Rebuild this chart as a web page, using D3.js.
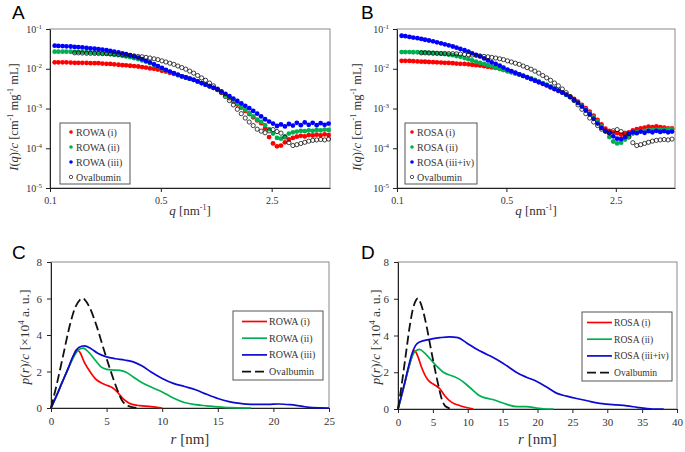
<!DOCTYPE html>
<html>
<head>
<meta charset="utf-8">
<script src="https://cdn.jsdelivr.net/npm/d3@7"></script>
<style>
  body { margin: 0; background: #fff; }
  svg text { font-family: "Liberation Serif", "Times New Roman", serif; fill: #333; }
  .letter { font-family: "Liberation Sans", Arial, sans-serif !important; fill: #000 !important; }
</style>
</head>
<body>
<svg id="fig" width="685" height="452"></svg>
<script>
// scattering vector q (nm^-1), shared by panels A and B
const qGrid = [0.107, 0.113, 0.120, 0.127, 0.135, 0.143, 0.151, 0.160, 0.170, 0.180,
  0.191, 0.202, 0.214, 0.227, 0.240, 0.254, 0.270, 0.286, 0.302, 0.320,
  0.339, 0.360, 0.381, 0.403, 0.427, 0.453, 0.479, 0.508, 0.538, 0.570,
  0.604, 0.640, 0.678, 0.718, 0.760, 0.805, 0.853, 0.904, 0.957, 1.014,
  1.074, 1.138, 1.205, 1.277, 1.353, 1.433, 1.518, 1.608, 1.703, 1.804,
  1.911, 2.025, 2.145, 2.272, 2.407, 2.549, 2.701, 2.861, 3.030, 3.210,
  3.401, 3.602, 3.816, 4.042, 4.282, 4.536, 4.805, 5.090, 5.392, 5.712]

// I(q)/c  (cm^-1 mg^-1 mL)
const rowa1 = [1.45e-2, 1.45e-2, 1.45e-2, 1.45e-2, 1.43e-2, 1.41e-2, 1.41e-2, 1.41e-2, 1.40e-2, 1.38e-2,
  1.38e-2, 1.38e-2, 1.35e-2, 1.33e-2, 1.32e-2, 1.29e-2, 1.26e-2, 1.23e-2, 1.22e-2, 1.19e-2,
  1.17e-2, 1.14e-2, 1.10e-2, 1.07e-2, 1.02e-2, 1.00e-2, 9.55e-3, 8.91e-3, 8.51e-3, 7.94e-3,
  7.41e-3, 6.92e-3, 6.46e-3, 6.03e-3, 5.62e-3, 5.25e-3, 4.79e-3, 4.37e-3, 3.98e-3, 3.63e-3,
  3.31e-3, 2.95e-3, 2.51e-3, 2.14e-3, 1.82e-3, 1.51e-3, 1.26e-3, 1.05e-3, 8.71e-4, 7.24e-4,
  6.03e-4, 5.01e-4, 4.27e-4, 3.16e-4, 1.91e-4, 1.32e-4, 1.12e-4, 1.17e-4, 1.41e-4, 1.66e-4,
  1.82e-4, 1.95e-4, 2.05e-4, 1.98e-4, 2.14e-4, 2.09e-4, 2.19e-4, 2.12e-4, 2.24e-4, 2.14e-4]
const rowa2 = [2.69e-2, 2.69e-2, 2.69e-2, 2.69e-2, 2.68e-2, 2.66e-2, 2.66e-2, 2.63e-2, 2.60e-2, 2.57e-2,
  2.54e-2, 2.51e-2, 2.45e-2, 2.40e-2, 2.34e-2, 2.26e-2, 2.19e-2, 2.11e-2, 2.04e-2, 1.95e-2,
  1.84e-2, 1.74e-2, 1.62e-2, 1.51e-2, 1.38e-2, 1.26e-2, 1.15e-2, 1.02e-2, 9.12e-3, 8.32e-3,
  7.59e-3, 6.92e-3, 6.46e-3, 6.03e-3, 5.62e-3, 5.25e-3, 4.79e-3, 4.37e-3, 3.98e-3, 3.63e-3,
  3.31e-3, 2.95e-3, 2.57e-3, 2.19e-3, 1.86e-3, 1.58e-3, 1.32e-3, 1.10e-3, 9.12e-4, 7.59e-4,
  6.31e-4, 5.25e-4, 4.57e-4, 3.80e-4, 3.02e-4, 2.34e-4, 1.82e-4, 1.74e-4, 2.00e-4, 2.34e-4,
  2.51e-4, 2.63e-4, 2.75e-4, 2.69e-4, 2.82e-4, 2.75e-4, 2.88e-4, 2.82e-4, 2.95e-4, 2.88e-4]
const rowa3 = [3.80e-2, 3.76e-2, 3.72e-2, 3.67e-2, 3.63e-2, 3.55e-2, 3.51e-2, 3.43e-2, 3.35e-2, 3.27e-2,
  3.20e-2, 3.13e-2, 3.02e-2, 2.92e-2, 2.82e-2, 2.69e-2, 2.57e-2, 2.45e-2, 2.32e-2, 2.19e-2,
  2.04e-2, 1.91e-2, 1.74e-2, 1.58e-2, 1.45e-2, 1.29e-2, 1.17e-2, 1.05e-2, 9.33e-3, 8.51e-3,
  7.76e-3, 7.08e-3, 6.46e-3, 6.03e-3, 5.62e-3, 5.25e-3, 4.79e-3, 4.37e-3, 3.98e-3, 3.63e-3,
  3.31e-3, 3.02e-3, 2.69e-3, 2.34e-3, 2.04e-3, 1.78e-3, 1.55e-3, 1.35e-3, 1.17e-3, 1.02e-3,
  8.71e-4, 7.41e-4, 6.31e-4, 5.37e-4, 4.68e-4, 4.17e-4, 3.63e-4, 3.98e-4, 3.55e-4, 4.07e-4,
  3.72e-4, 4.37e-4, 3.80e-4, 4.47e-4, 3.89e-4, 4.37e-4, 3.80e-4, 4.27e-4, 3.89e-4, 4.17e-4]
const rosa1 = [1.58e-2, 1.58e-2, 1.57e-2, 1.55e-2, 1.53e-2, 1.51e-2, 1.50e-2, 1.48e-2, 1.46e-2, 1.45e-2,
  1.43e-2, 1.41e-2, 1.40e-2, 1.38e-2, 1.35e-2, 1.33e-2, 1.32e-2, 1.29e-2, 1.26e-2, 1.23e-2,
  1.20e-2, 1.16e-2, 1.12e-2, 1.08e-2, 1.05e-2, 1.00e-2, 9.33e-3, 8.71e-3, 8.32e-3, 7.76e-3,
  7.24e-3, 6.61e-3, 6.17e-3, 5.62e-3, 5.13e-3, 4.68e-3, 4.27e-3, 3.89e-3, 3.39e-3, 3.09e-3,
  2.75e-3, 2.51e-3, 2.24e-3, 2.00e-3, 1.74e-3, 1.48e-3, 1.23e-3, 1.02e-3, 8.32e-4, 6.61e-4,
  5.13e-4, 3.98e-4, 3.09e-4, 2.75e-4, 2.51e-4, 2.40e-4, 2.19e-4, 2.29e-4, 2.51e-4, 2.82e-4,
  3.02e-4, 3.16e-4, 3.31e-4, 3.47e-4, 3.39e-4, 3.55e-4, 3.39e-4, 3.31e-4, 3.16e-4, 3.16e-4]
const rosa2 = [2.63e-2, 2.63e-2, 2.63e-2, 2.60e-2, 2.60e-2, 2.57e-2, 2.57e-2, 2.54e-2, 2.51e-2, 2.45e-2,
  2.40e-2, 2.34e-2, 2.26e-2, 2.19e-2, 2.09e-2, 2.00e-2, 1.86e-2, 1.74e-2, 1.62e-2, 1.51e-2,
  1.41e-2, 1.32e-2, 1.23e-2, 1.15e-2, 1.07e-2, 1.00e-2, 9.33e-3, 8.71e-3, 8.13e-3, 7.59e-3,
  7.08e-3, 6.61e-3, 6.17e-3, 5.75e-3, 5.25e-3, 4.79e-3, 4.37e-3, 3.98e-3, 3.55e-3, 3.16e-3,
  2.82e-3, 2.51e-3, 2.19e-3, 1.91e-3, 1.62e-3, 1.38e-3, 1.15e-3, 9.55e-4, 7.76e-4, 6.17e-4,
  4.79e-4, 3.55e-4, 2.63e-4, 1.91e-4, 1.48e-4, 1.32e-4, 1.38e-4, 1.66e-4, 2.00e-4, 2.34e-4,
  2.51e-4, 2.69e-4, 2.75e-4, 2.82e-4, 2.88e-4, 2.88e-4, 2.95e-4, 2.95e-4, 3.02e-4, 3.02e-4]
const rosa34 = [6.76e-2, 6.61e-2, 6.31e-2, 6.10e-2, 5.89e-2, 5.62e-2, 5.37e-2, 5.13e-2, 4.90e-2, 4.62e-2,
  4.37e-2, 4.12e-2, 3.89e-2, 3.63e-2, 3.39e-2, 3.16e-2, 2.92e-2, 2.69e-2, 2.45e-2, 2.24e-2,
  2.04e-2, 1.82e-2, 1.62e-2, 1.45e-2, 1.32e-2, 1.20e-2, 1.07e-2, 9.55e-3, 8.71e-3, 7.94e-3,
  7.24e-3, 6.61e-3, 6.03e-3, 5.50e-3, 5.01e-3, 4.57e-3, 4.17e-3, 3.80e-3, 3.47e-3, 3.09e-3,
  2.82e-3, 2.51e-3, 2.24e-3, 1.95e-3, 1.66e-3, 1.38e-3, 1.12e-3, 8.91e-4, 7.08e-4, 5.50e-4,
  4.17e-4, 3.24e-4, 2.75e-4, 2.40e-4, 2.00e-4, 1.74e-4, 1.70e-4, 1.91e-4, 2.29e-4, 2.51e-4,
  2.40e-4, 2.63e-4, 2.45e-4, 2.69e-4, 2.51e-4, 2.75e-4, 2.57e-4, 2.69e-4, 2.51e-4, 2.63e-4]
const ovalbumin = [null, null, null, null, null, 2.51e-2, 2.51e-2, 2.48e-2, 2.45e-2, 2.45e-2,
  2.43e-2, 2.43e-2, 2.40e-2, 2.40e-2, 2.37e-2, 2.34e-2, 2.29e-2, 2.26e-2, 2.21e-2, 2.16e-2,
  2.11e-2, 2.04e-2, 2.00e-2, 1.93e-2, 1.86e-2, 1.78e-2, 1.70e-2, 1.58e-2, 1.48e-2, 1.38e-2,
  1.29e-2, 1.17e-2, 1.07e-2, 9.77e-3, 8.71e-3, 7.76e-3, 6.76e-3, 5.89e-3, 5.13e-3, 4.37e-3,
  3.72e-3, 3.09e-3, 2.51e-3, 2.00e-3, 1.58e-3, 1.23e-3, 9.55e-4, 7.41e-4, 5.75e-4, 4.57e-4,
  3.72e-4, 3.02e-4, 2.69e-4, 2.45e-4, 2.75e-4, 2.95e-4, 2.63e-4, 2.40e-4, 1.91e-4, 1.38e-4,
  1.17e-4, 1.23e-4, 1.32e-4, 1.41e-4, 1.51e-4, 1.58e-4, 1.62e-4, 1.66e-4, 1.62e-4, 1.70e-4]

// p(r)/c (x10^4 a.u.) against r (nm)
const rowaP1 = [[0, 0], [0.5, 0.68], [1, 1.4], [1.5, 2.1], [2, 2.85], [2.3, 3.2], [2.6, 3.05], [3.0, 2.5], [3.5, 2.0],
  [4.0, 1.6], [4.5, 1.38], [5.0, 1.25], [5.5, 1.12], [6.0, 0.85], [6.5, 0.5], [7.0, 0.28], [7.5, 0.17], [8.0, 0.13], [9.0, 0.08], [10, 0]]
const rowaP2 = [[0, 0], [0.5, 0.68], [1, 1.4], [1.5, 2.1], [2, 2.75], [2.5, 3.2], [2.9, 3.28], [3.4, 3.05], [4.0, 2.6],
  [4.5, 2.25], [5.0, 2.12], [5.6, 2.08], [6.2, 2.06], [6.8, 1.95], [7.4, 1.7], [8.0, 1.45], [9.0, 1.15], [10.0, 0.88],
  [11.0, 0.55], [12.0, 0.3], [13.0, 0.18], [14.0, 0.12], [15.0, 0.06], [16.0, 0.02], [18.0, 0]]
const rowaP3 = [[0, 0], [0.5, 0.68], [1, 1.4], [1.5, 2.1], [2, 2.85], [2.5, 3.32], [3.0, 3.4], [3.6, 3.25], [4.2, 3.0],
  [5.0, 2.8], [5.8, 2.7], [6.6, 2.63], [7.4, 2.53], [8.2, 2.3], [9.0, 1.97], [10.0, 1.62], [11.0, 1.35], [12.0, 1.18],
  [13.0, 1.0], [14.0, 0.75], [15.0, 0.52], [16.0, 0.35], [17.0, 0.25], [18.0, 0.2], [19.5, 0.2], [20.5, 0.22],
  [21.5, 0.18], [22.5, 0.1], [23.5, 0.02], [25, 0]]
const rosaP1 = [[0, 0], [0.5, 0.7], [1, 1.45], [1.5, 2.2], [2.0, 2.85], [2.4, 3.16], [2.8, 2.9], [3.35, 2.3], [4.0, 1.75],
  [4.5, 1.5], [5.0, 1.37], [5.5, 1.25], [6.0, 1.1], [6.7, 0.72], [7.7, 0.36], [8.9, 0.18], [10.3, 0.04], [10.8, 0]]
const rosaP2 = [[0, 0], [0.5, 0.7], [1, 1.45], [1.5, 2.2], [2.0, 2.85], [2.5, 3.15], [3.1, 3.25], [3.8, 3.05], [4.55, 2.75],
  [5.5, 2.35], [6.5, 2.0], [7.9, 1.78], [8.9, 1.6], [10.3, 1.17], [11.7, 0.72], [13.7, 0.5], [15.6, 0.25], [17, 0.13],
  [18.4, 0.13], [19.9, 0.05], [21.3, 0], [22.3, 0]]
const rosaP34 = [[0, 0], [0.5, 0.75], [1.0, 1.5], [1.5, 2.3], [2.0, 3.0], [2.5, 3.45], [3.1, 3.65], [4.55, 3.79], [6.0, 3.88],
  [7.4, 3.93], [8.6, 3.88], [9.8, 3.61], [11.3, 3.25], [12.7, 2.98], [14.1, 2.71], [15.6, 2.35], [17.0, 1.99], [18.4, 1.73],
  [19.9, 1.5], [21.3, 1.2], [22.8, 0.85], [24.2, 0.7], [25.6, 0.57], [27.1, 0.45], [28.5, 0.33], [29.9, 0.27], [31.4, 0.22],
  [32.8, 0.17], [34.3, 0.09], [35.5, 0.03], [36.5, 0], [38.1, 0]]
const ovalbuminP = [[0, 0], [0.5, 1.25], [1.1, 2.9], [1.7, 4.55], [2.15, 5.47], [2.6, 5.93], [2.85, 6.02], [3.05, 5.93],
  [3.5, 5.47], [4.1, 4.5], [4.7, 3.3], [5.3, 2.15], [5.9, 1.1], [6.35, 0.45], [6.8, 0.15], [7.4, 0.04], [7.9, 0]]

const rowaNames = ['ROWA (i)', 'ROWA (ii)', 'ROWA (iii)', 'Ovalbumin']
const rosaNames = ['ROSA (i)', 'ROSA (ii)', 'ROSA (iii+iv)', 'Ovalbumin']
const qTicks = [0.1, 0.5, 2.5]
const iTicks = [1e-5, 1e-4, 1e-3, 1e-2, 1e-1]
const pTicks = [0, 2, 4, 6, 8]

const dotColors = ['#ff0000', '#00b050', '#0000ff']
const lineColors = ['#ff0000', '#00b050', '#0a0ad2']
const svg = d3.select('#fig')
svg.append('rect').attr('width', 685).attr('height', 452).attr('fill', '#fff')

function styleAxis (g, size) {
  g.select('.domain').attr('stroke', '#222')
  g.selectAll('.tick line').attr('stroke', '#222')
  g.selectAll('.tick text').attr('font-size', size).attr('fill', '#333')
}

function frame (b) {
  svg.append('rect').attr('x', b.x0).attr('y', b.y0).attr('width', b.x1 - b.x0).attr('height', b.y1 - b.y0)
    .attr('fill', 'none').attr('stroke', '#8a8a8a').attr('stroke-width', 1)
}

function saxsPanel (b, qMax, sets, names, lg, letter, titleX) {
  const x = d3.scaleLog().domain([0.1, qMax]).range([b.x0, b.x1])
  const y = d3.scaleLog().domain([1e-5, 1e-1]).range([b.y1, b.y0])
  frame(b)
  const gx = svg.append('g').attr('transform', `translate(0,${b.y1})`)
    .call(d3.axisBottom(x).tickValues(qTicks).tickFormat(d3.format('')).tickSize(4).tickSizeOuter(0).tickPadding(5))
  styleAxis(gx, 10)
  const gy = svg.append('g').attr('transform', `translate(${b.x0},0)`)
    .call(d3.axisLeft(y).tickValues(iTicks).tickSize(4).tickSizeOuter(0).tickPadding(4))
  styleAxis(gy, 10)
  gy.selectAll('.tick text').each(function (d) {
    const t = d3.select(this).text('')
    t.append('tspan').text('10')
    t.append('tspan').attr('dy', -4).attr('font-size', 7).text(Math.round(Math.log10(d)))
  })

  sets.forEach((vals, k) => {
    const pts = qGrid.map((q, i) => [q, vals[i]]).filter(d => d[1] != null)
    const sel = svg.append('g').selectAll('circle').data(pts).join('circle')
      .attr('cx', d => x(d[0])).attr('cy', d => y(d[1]))
    if (k < 3) {
      sel.attr('r', 2.4).attr('fill', dotColors[k])
    } else {
      sel.attr('r', 2.1).attr('fill', 'none').attr('stroke', '#111').attr('stroke-width', 0.8)
    }
  })

  // legend
  svg.append('rect').attr('x', lg.x).attr('y', lg.y).attr('width', lg.w).attr('height', lg.h)
    .attr('fill', '#fff').attr('stroke', '#555').attr('stroke-width', 1)
  names.forEach((n, k) => {
    const cy = lg.y + 9 + k * 15
    const c = svg.append('circle').attr('cx', lg.x + lg.m).attr('cy', cy)
    if (k < 3) c.attr('r', 1.8).attr('fill', dotColors[k])
    else c.attr('r', 1.7).attr('fill', 'none').attr('stroke', '#111').attr('stroke-width', 0.7)
    svg.append('text').attr('x', lg.x + lg.m + 5).attr('y', cy + 3.5).attr('font-size', 10).text(n)
  })

  // axis titles
  const yt = svg.append('text').attr('transform', `translate(${titleX},117) rotate(-90)`)
    .attr('text-anchor', 'middle').attr('font-size', 12.5)
  yt.append('tspan').attr('font-style', 'italic').text('I')
  yt.append('tspan').text('(')
  yt.append('tspan').attr('font-style', 'italic').text('q')
  yt.append('tspan').text(')/')
  yt.append('tspan').attr('font-style', 'italic').text('c')
  yt.append('tspan').text(' [cm')
  yt.append('tspan').attr('dy', -5).attr('font-size', 8).text('-1')
  yt.append('tspan').attr('dy', 5).text(' mg')
  yt.append('tspan').attr('dy', -5).attr('font-size', 8).text('-1')
  yt.append('tspan').attr('dy', 5).text(' mL]')

  const xt = svg.append('text').attr('x', (b.x0 + b.x1) / 2).attr('y', 215)
    .attr('text-anchor', 'middle').attr('font-size', 13)
  xt.append('tspan').attr('font-style', 'italic').text('q')
  xt.append('tspan').text(' [nm')
  xt.append('tspan').attr('dy', -5).attr('font-size', 8).text('-1')
  xt.append('tspan').attr('dy', 5).text(']')

  svg.append('text').attr('class', 'letter').attr('x', letter.x).attr('y', letter.y)
    .attr('font-size', 19).text(letter.t)
}

function prPanel (b, rMax, sets, names, lg, letter, titleX) {
  const x = d3.scaleLinear().domain([0, rMax]).range([b.x0, b.x1])
  const y = d3.scaleLinear().domain([0, 8]).range([b.y1, b.y0])
  frame(b)
  const gx = svg.append('g').attr('transform', `translate(0,${b.y1})`)
    .call(d3.axisBottom(x).tickValues(d3.range(0, rMax + 1, 5)).tickSize(4).tickSizeOuter(0).tickPadding(5))
  styleAxis(gx, 11)
  const gy = svg.append('g').attr('transform', `translate(${b.x0},0)`)
    .call(d3.axisLeft(y).tickValues(pTicks).tickSize(4).tickSizeOuter(0).tickPadding(5))
  styleAxis(gy, 11)

  const line = d3.line().x(d => x(d[0])).y(d => y(d[1])).curve(d3.curveMonotoneX)
  sets.forEach((pts, k) => {
    const p = svg.append('path').datum(pts).attr('d', line).attr('fill', 'none')
    if (k < 3) p.attr('stroke', lineColors[k]).attr('stroke-width', 1.7)
    else p.attr('stroke', '#111').attr('stroke-width', 1.8).attr('stroke-dasharray', '9,4')
  })

  svg.append('rect').attr('x', lg.x).attr('y', lg.y).attr('width', lg.w).attr('height', lg.h)
    .attr('fill', '#fff').attr('stroke', '#555').attr('stroke-width', 1)
  names.forEach((n, k) => {
    const cy = lg.y + 10.5 + k * 16.7
    const l = svg.append('line').attr('x1', lg.x + lg.m).attr('x2', lg.x + lg.m + 25).attr('y1', cy).attr('y2', cy)
    if (k < 3) l.attr('stroke', lineColors[k]).attr('stroke-width', 1.7)
    else l.attr('stroke', '#111').attr('stroke-width', 1.8).attr('stroke-dasharray', '9,4')
    svg.append('text').attr('x', lg.x + lg.m + 27).attr('y', cy + 3.5).attr('font-size', lg.fs).text(n)
  })

  const yt = svg.append('text').attr('transform', `translate(${titleX},337) rotate(-90)`)
    .attr('text-anchor', 'middle').attr('font-size', 13.5)
  yt.append('tspan').attr('font-style', 'italic').text('p')
  yt.append('tspan').text('(')
  yt.append('tspan').attr('font-style', 'italic').text('r')
  yt.append('tspan').text(')/')
  yt.append('tspan').attr('font-style', 'italic').text('c')
  yt.append('tspan').text(' [×10')
  yt.append('tspan').attr('dy', -5).attr('font-size', 9).text('4')
  yt.append('tspan').attr('dy', 5).text(' a. u.]')

  const xt = svg.append('text').attr('x', (b.x0 + b.x1) / 2).attr('y', 444)
    .attr('text-anchor', 'middle').attr('font-size', 15)
  xt.append('tspan').attr('font-style', 'italic').text('r')
  xt.append('tspan').text(' [nm]')

  svg.append('text').attr('class', 'letter').attr('x', letter.x).attr('y', letter.y)
    .attr('font-size', 19).text(letter.t)
}

saxsPanel({ x0: 50, x1: 330, y0: 29, y1: 188 }, 5.83, [rowa1, rowa2, rowa3, ovalbumin], rowaNames,
  { x: 60, y: 123, w: 70, h: 61, m: 11 }, { x: 12, y: 19, t: 'A' }, 18)
saxsPanel({ x0: 397, x1: 675, y0: 29, y1: 188 }, 5.97, [rosa1, rosa2, rosa34, ovalbumin], rosaNames,
  { x: 405, y: 123, w: 72, h: 61, m: 7 }, { x: 361, y: 19, t: 'B' }, 361)
prPanel({ x0: 51, x1: 329, y0: 262, y1: 408 }, 25, [rowaP1, rowaP2, rowaP3, ovalbuminP], rowaNames,
  { x: 233, y: 311, w: 90, h: 69, m: 9, fs: 10 }, { x: 12, y: 259, t: 'C' }, 29)
prPanel({ x0: 398, x1: 677, y0: 262, y1: 409 }, 40, [rosaP1, rosaP2, rosaP34, ovalbuminP], rosaNames,
  { x: 582, y: 312, w: 90, h: 69, m: 5, fs: 9.6 }, { x: 361, y: 259, t: 'D' }, 380)
</script>
</body>
</html>
